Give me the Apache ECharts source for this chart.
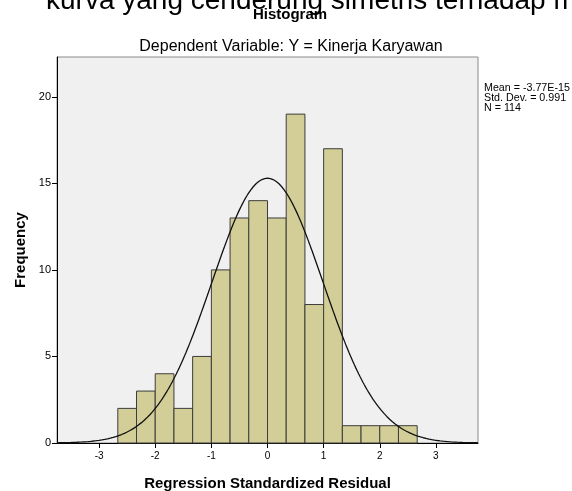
<!DOCTYPE html>
<html><head><meta charset="utf-8">
<script src="https://cdn.jsdelivr.net/npm/echarts@6/dist/echarts.min.js"></script>
<style>html,body{margin:0;padding:0;background:#fff}#c{width:572px;height:491px}</style>
</head><body><div id="c"></div>
<script>
// Histogram bins (left edges) and counts
var binStarts = [-8/3,-7/3,-2,-5/3,-4/3,-1,-2/3,-1/3,0,1/3,2/3,1,4/3,5/3,2,7/3];
var binWidth = 1/3;
var counts = [2,3,4,2,5,10,13,14,13,19,8,17,1,1,1,1];
var xTicks = [-3,-2,-1,0,1,2,3];
var yTicks = [0,5,10,15,20];
// Descriptive statistics shown in the chart (used for the fitted normal curve)
var statMean = -3.77e-15;
var statSD = 0.991;
var statN = 114;
var statsText = ['Mean = -3.77E-15','Std. Dev. = 0.991','N = 114'];

var barData = binStarts.map(function(s,i){return [s, s+binWidth, counts[i]];});
var curve = [];
for (var k=0;k<=300;k++){
  var x = -3.75 + k*0.025;
  var z = (x-statMean)/statSD;
  curve.push([x, statN*binWidth*Math.exp(-0.5*z*z)/(statSD*Math.sqrt(2*Math.PI))]);
}
var F = 'Liberation Sans, Arial, sans-serif';
var chart = echarts.init(document.getElementById('c'));
chart.setOption({
  animation:false,
  grid:{left:57,right:94,top:57,bottom:48,outerBoundsMode:'none',containLabel:false,show:true,backgroundColor:'#F0F0F0',borderColor:'#8a8a8a',borderWidth:1},
  xAxis:{type:'value',min:-3.75,max:3.75,
    name:'Regression Standardized Residual',nameLocation:'middle',nameGap:33,
    nameTextStyle:{fontFamily:F,fontSize:15,fontWeight:'bold',color:'#000'},
    axisLine:{show:true,onZero:false,lineStyle:{color:'#000',width:1}},
    axisTick:{show:true,length:5,lineStyle:{color:'#000'},customValues:xTicks},
    axisLabel:{fontFamily:F,fontSize:10,color:'#000',margin:8,customValues:xTicks,formatter:function(v){return String(v);}},
    splitLine:{show:false}},
  yAxis:{type:'value',min:0,max:22.3,
    name:'Frequency',nameLocation:'middle',nameGap:29,nameRotate:90,
    nameTextStyle:{fontFamily:F,fontSize:15,fontWeight:'bold',color:'#000'},
    axisLine:{show:true,onZero:false,lineStyle:{color:'#000',width:1}},
    axisTick:{show:true,length:5,lineStyle:{color:'#000'},customValues:yTicks},
    axisLabel:{fontFamily:F,fontSize:11,color:'#000',margin:6,customValues:yTicks},
    splitLine:{show:false}},
  series:[
    {type:'custom',data:barData,renderItem:function(params,api){
      var p0 = api.coord([api.value(0),0]);
      var p1 = api.coord([api.value(1),api.value(2)]);
      return {type:'rect',shape:{x:p0[0],y:p1[1],width:p1[0]-p0[0],height:p0[1]-p1[1]},
        style:{fill:'#D3CE97',stroke:'#3c3c3c',lineWidth:1}};
    },encode:{x:[0,1],y:2},z:2},
    {type:'line',data:curve,showSymbol:false,smooth:false,lineStyle:{color:'#111',width:1.3},z:3}
  ],
  graphic:[
    {type:'text',left:46,top:-13,style:{text:'kurva yang cenderung simetris terhadap m',font:'28px '+F,fill:'#000'}},
    {type:'text',x:290,y:15,style:{text:'Histogram',font:'bold 15px '+F,fill:'#000',textAlign:'center',textVerticalAlign:'middle'}},
    {type:'text',x:291,y:47,style:{text:'Dependent Variable: Y = Kinerja Karyawan',font:'16px '+F,fill:'#000',textAlign:'center',textVerticalAlign:'middle'}},
    {type:'text',x:484,y:83,style:{text:statsText.join('\n'),font:'10.7px '+F,lineHeight:10,fill:'#000'}}
  ]
});
</script></body></html>
